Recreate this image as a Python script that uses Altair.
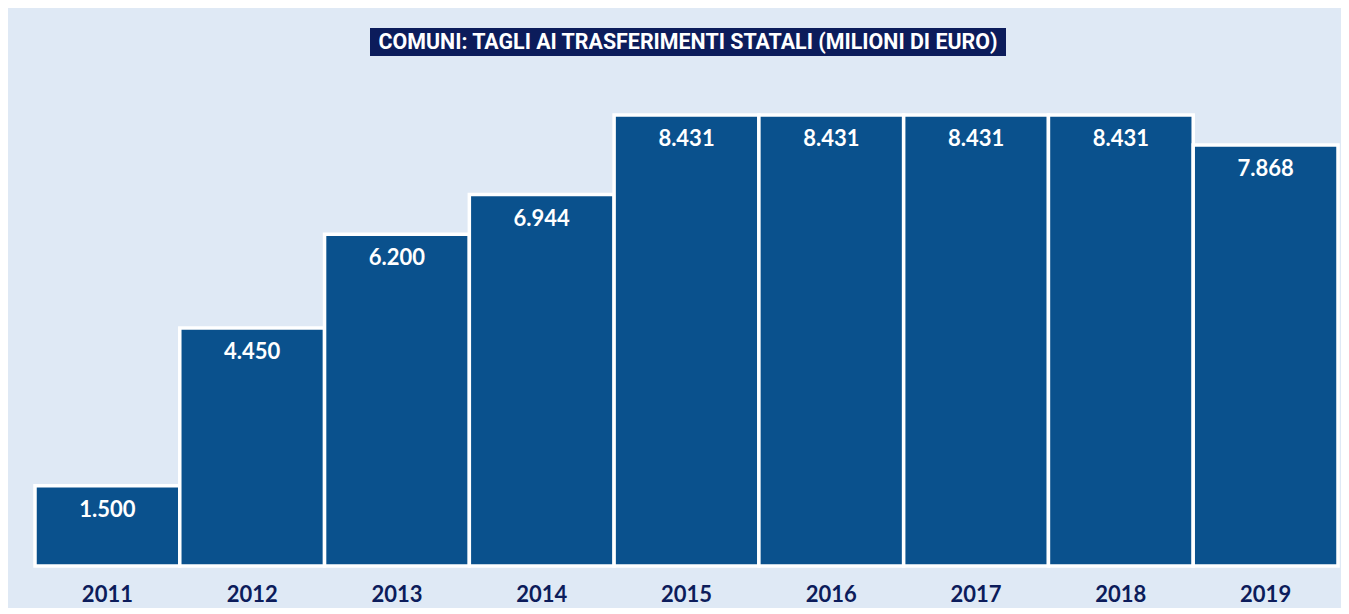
import altair as alt
import pandas as pd

years = ["2011", "2012", "2013", "2014", "2015", "2016", "2017", "2018", "2019"]
values = [1500, 4450, 6200, 6944, 8431, 8431, 8431, 8431, 7868]
title_text = "COMUNI: TAGLI AI TRASFERIMENTI STATALI (MILIONI DI EURO)"

labels = [f"{v:,}".replace(",", ".") for v in values]
df = pd.DataFrame({"anno": years, "valore": values, "etichetta": labels})

W, H = 1303, 558
BAR = "#0a518d"
NAVY = "#0c1c5b"
BG = "#dfe9f5"

base = alt.Chart(df).encode(
    x=alt.X("anno:N", sort=years,
            scale=alt.Scale(paddingInner=0, paddingOuter=0),
            axis=alt.Axis(title=None, domain=False, ticks=False, tickSize=0,
                          labelAngle=0, labelPadding=28, labelBaseline="middle",
                          labelFont="Lato", labelFontSize=22, labelFontWeight="bold",
                          labelColor=NAVY)),
    y=alt.Y("valore:Q", scale=alt.Scale(domain=[0, 10431], nice=False),
            axis=None),
)

bars = base.mark_bar(color=BAR, stroke="white", strokeWidth=3.5)
texts = base.mark_text(color="white", font="Lato", fontSize=22, fontWeight="bold",
                       baseline="middle", dy=24).encode(text="etichetta:N")

tdf = pd.DataFrame({"t": [title_text]})
box = alt.Chart(tdf).mark_rect(color=NAVY).encode(
    x=alt.value(335), x2=alt.value(971), y=alt.value(20), y2=alt.value(48))
ttl = alt.Chart(tdf).mark_text(color="white", font="Roboto",
                               fontSize=21.4, fontWeight="bold", align="center",
                               baseline="middle").encode(
    x=alt.value(653), y=alt.value(35), text="t:N")

chart = alt.layer(bars, texts, box, ttl).properties(
    width=W, height=H,
    background=BG,
    padding={"left": 27, "right": 3, "top": 0, "bottom": 42},
    autosize=alt.AutoSizeParams(type="none"),
).configure_view(stroke=None)

chart.save("out.html", embed_options={"renderer": "svg", "actions": False})
